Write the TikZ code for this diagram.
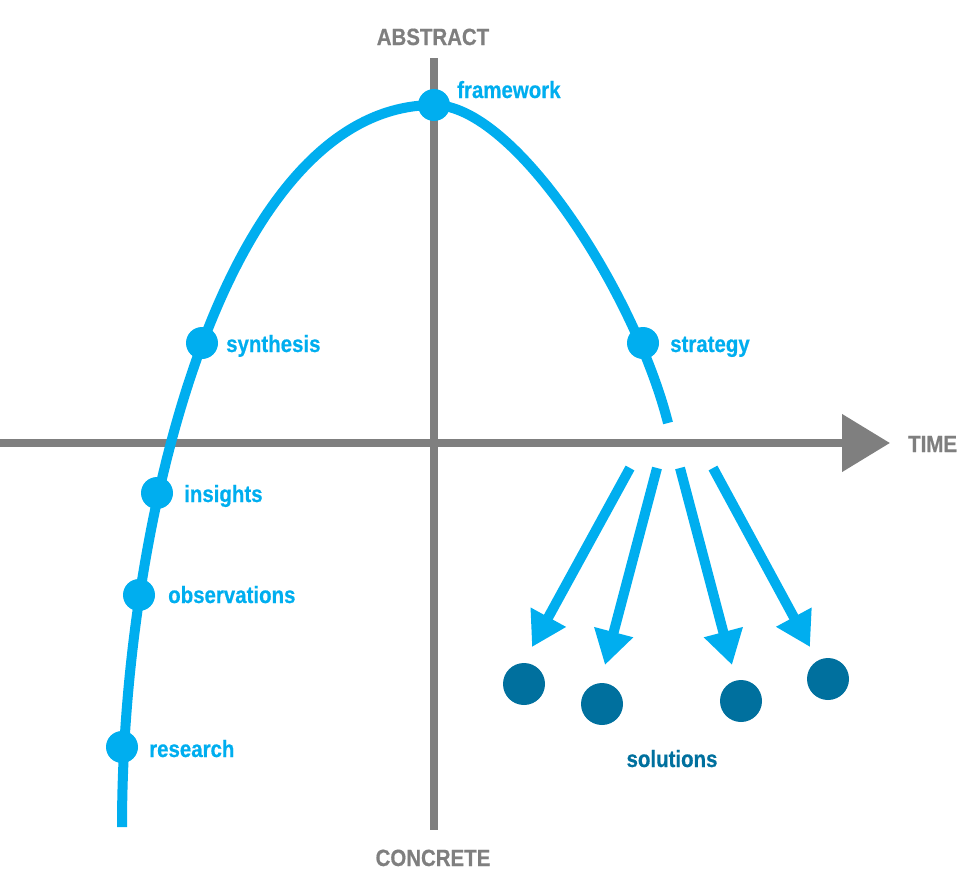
\documentclass[tikz,border=0pt]{standalone}
\usepackage{fontspec}
\setmainfont{Liberation Sans}[FakeStretch=0.87, BoldFeatures={FakeBold=0.6}]
\usepackage{xcolor}
\definecolor{SkyBlue}{HTML}{00AEEF}
\definecolor{DeepBlue}{HTML}{00709E}
\definecolor{AxisGray}{HTML}{7F7F7F}
\usepackage{tikz}
\usetikzlibrary{arrows.meta,positioning}

\begin{document}
\begin{tikzpicture}[
  x=1pt, y=-1pt,
  font=\fontsize{23.5}{28}\selectfont\bfseries,
  axis/.style={draw=AxisGray, line width=8pt},
  curve/.style={draw=SkyBlue, line width=10pt},
  dot/.style={circle, fill=SkyBlue, inner sep=0pt, minimum size=32pt},
  soldot/.style={circle, fill=DeepBlue, inner sep=0pt, minimum size=42pt},
  lbl/.style={text=SkyBlue, inner sep=0pt, anchor=base west},
  axlbl/.style={text=AxisGray, inner sep=0pt, anchor=base},
  sol/.style={-{Triangle[length=34pt,width=38pt]}, line width=10pt, SkyBlue}
]
  \useasboundingbox (0,0) rectangle (967,873);

  % axes
  \coordinate (xl) at (0,443);
  \coordinate (xr) at (890,443);
  \coordinate (yt) at (434,58);
  \coordinate (yb) at (434,830);
  \draw[axis] (yt) -- (yb);
  \draw[axis, -{Triangle[length=48pt,width=56pt]}] (xl) -- (xr);
  \node[axlbl] (abs) at (433,45) {ABSTRACT};
  \node[axlbl] (con) at (433,866) {CONCRETE};
  \node[axlbl, anchor=base west] (time) at (908,452) {TIME};

  % curve
  \coordinate (cstart) at (122,827);
  \coordinate (peak) at (434,105);
  \coordinate (cstop) at (668,423);
  \draw[curve] (cstart) .. controls (122,520) and (225,105) .. (peak)
    .. controls (515,105) and (635,293) .. (cstop);

  % stages
  \node[dot] (res) at (122,747) {};
  \node[dot] (obs) at (139,595) {};
  \node[dot] (ins) at (157,493) {};
  \node[dot] (syn) at (202,343) {};
  \node[dot] (fw) at (peak) {};
  \node[dot] (str) at (643,343) {};
  \node[lbl] at (149,757) {research};
  \node[lbl] at (168,603) {observations};
  \node[lbl] at (184,502) {insights};
  \node[lbl] at (226,352) {synthesis};
  \node[lbl] at (457,98) {framework};
  \node[lbl] at (670,352) {strategy};

  % solutions
  \coordinate (s1) at (630,468);
  \coordinate (s2) at (657,468);
  \coordinate (s3) at (680,468);
  \coordinate (s4) at (713,468);
  \coordinate (e1) at (532,647);
  \coordinate (e2) at (605,665);
  \coordinate (e3) at (732,665);
  \coordinate (e4) at (810,647);
  \foreach \i in {1,...,4}
    \draw[sol] (s\i) -- (e\i);
  \node[soldot] (d1) at (524,684) {};
  \node[soldot] (d2) at (602,704) {};
  \node[soldot] (d3) at (741,701) {};
  \node[soldot] (d4) at (828,679) {};
  \node[axlbl, text=DeepBlue] (solu) at (672,767) {solutions};
\end{tikzpicture}
\end{document}
